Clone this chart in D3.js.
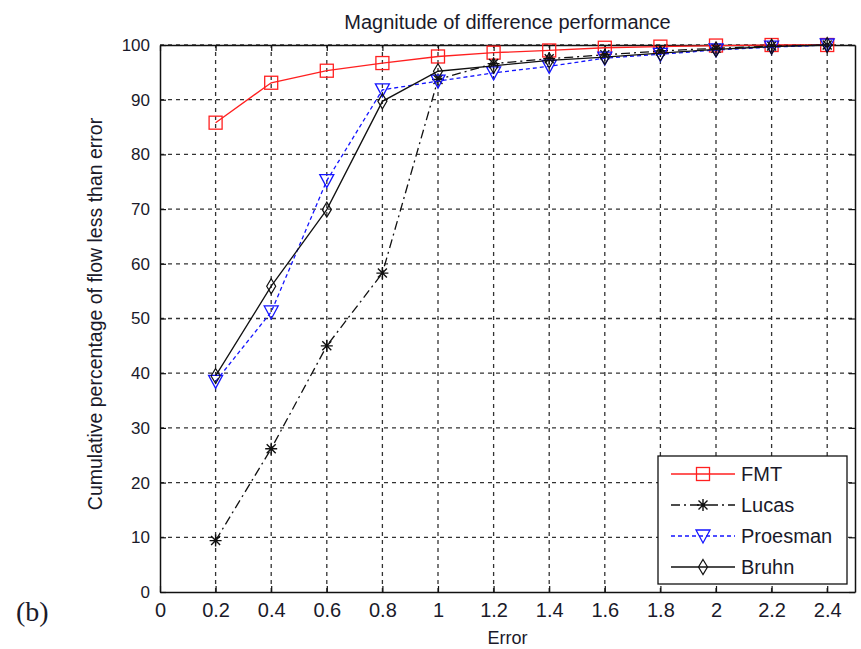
<!DOCTYPE html>
<html>
<head>
<meta charset="utf-8">
<script src="https://cdn.jsdelivr.net/npm/d3@7"></script>
<style>
  body { margin: 0; background: #fff; }
  text { font-family: "Liberation Sans", Arial, sans-serif; fill: #1a1a2a; }
</style>
</head>
<body>
<div id="chart"></div>
<script>
// --- datos ---
const errors = [0.2, 0.4, 0.6, 0.8, 1.0, 1.2, 1.4, 1.6, 1.8, 2.0, 2.2, 2.4];
const fmt      = [85.8, 93.1, 95.3, 96.7, 97.9, 98.6, 99.0, 99.5, 99.7, 99.9, 100, 100];
const lucas    = [9.4, 26.2, 45.0, 58.3, 93.7, 96.6, 97.5, 98.2, 98.9, 99.4, 99.8, 100];
const proesman = [38.5, 51.2, 75.2, 91.8, 93.4, 94.9, 96.1, 97.6, 98.3, 99.1, 99.6, 100];
const bruhn    = [39.5, 55.9, 69.9, 89.7, 95.2, 96.2, 97.2, 97.8, 98.5, 99.2, 99.7, 100];
const xTicks = [0, 0.2, 0.4, 0.6, 0.8, 1, 1.2, 1.4, 1.6, 1.8, 2, 2.2, 2.4];
const yTicks = [0, 10, 20, 30, 40, 50, 60, 70, 80, 90, 100];

const series = [
  { name: "FMT", values: fmt, color: "#ff2020", dash: null, marker: "square" },
  { name: "Lucas", values: lucas, color: "#111", dash: "9,4,2,4", marker: "star" },
  { name: "Proesman", values: proesman, color: "#1515ff", dash: "4,3", marker: "tri" },
  { name: "Bruhn", values: bruhn, color: "#111", dash: null, marker: "diamond" }
];

const width = 861, height = 649;
const margin = { top: 45, right: 6, bottom: 57, left: 160 };

const svg = d3.select("#chart").append("svg")
  .attr("width", width).attr("height", height);

const x = d3.scaleLinear().domain([0, 2.5]).range([margin.left, width - margin.right]);
const y = d3.scaleLinear().domain([0, 100]).range([height - margin.bottom, margin.top]);

const x0 = x.range()[0], x1 = x.range()[1], y0 = y.range()[0], y1 = y.range()[1];

// rejilla punteada
const grid = svg.append("g").attr("stroke", "#333").attr("stroke-width", 1.3)
  .attr("stroke-dasharray", "4,4");
xTicks.slice(1).forEach(t => {
  grid.append("line").attr("x1", x(t)).attr("x2", x(t)).attr("y1", y0).attr("y2", y1);
});
yTicks.slice(1).forEach(t => {
  grid.append("line").attr("x1", x0).attr("x2", x1).attr("y1", y(t)).attr("y2", y(t));
});

// ejes estilo MATLAB (ticks hacia dentro)
svg.append("g").attr("transform", `translate(0,${y0})`)
  .call(d3.axisBottom(x).tickValues(xTicks).tickSizeInner(-6).tickSizeOuter(0).tickPadding(11).tickFormat(d3.format("")))
  .call(g => g.selectAll("text").style("font-size", "20px").attr("fill", "#1a1a2a"));
svg.append("g").attr("transform", `translate(${x0},0)`)
  .call(d3.axisLeft(y).tickValues(yTicks).tickSizeInner(-6).tickSizeOuter(0).tickPadding(10))
  .call(g => g.selectAll("text").style("font-size", "17px").attr("fill", "#1a1a2a"));
svg.append("g").attr("transform", `translate(0,${y1})`)
  .call(d3.axisTop(x).tickValues(xTicks).tickSizeInner(-6).tickSizeOuter(0).tickFormat(""));
svg.append("g").attr("transform", `translate(${x1},0)`)
  .call(d3.axisRight(y).tickValues(yTicks).tickSizeInner(-6).tickSizeOuter(0).tickFormat(""));
svg.selectAll(".domain").attr("stroke", "#111").attr("stroke-width", 1.5);
svg.selectAll(".tick line").attr("stroke", "#111").attr("stroke-width", 1.2);

// marcadores
function drawMarker(g, type, color) {
  if (type === "square") {
    g.append("rect").attr("x", -6.5).attr("y", -6.5).attr("width", 13).attr("height", 13)
      .attr("fill", "none").attr("stroke", color).attr("stroke-width", 1.3);
  } else if (type === "tri") {
    g.append("path").attr("d", "M-7,-6 L7,-6 L0,7 Z")
      .attr("fill", "none").attr("stroke", color).attr("stroke-width", 1.3);
  } else if (type === "diamond") {
    g.append("path").attr("d", "M0,-7.5 L4.5,0 L0,7.5 L-4.5,0 Z")
      .attr("fill", "none").attr("stroke", color).attr("stroke-width", 1.2);
  } else if (type === "star") {
    g.append("path").attr("d", "M-6,0 L6,0 M0,-6 L0,6 M-4.5,-4.5 L4.5,4.5 M-4.5,4.5 L4.5,-4.5")
      .attr("stroke", color).attr("stroke-width", 1.4);
  }
}

const line = d3.line().x(d => x(d[0])).y(d => y(d[1]));

series.forEach(s => {
  const pts = errors.map((e, i) => [e, s.values[i]]);
  svg.append("path").datum(pts)
    .attr("d", line)
    .attr("fill", "none")
    .attr("stroke", s.color)
    .attr("stroke-width", 1.3)
    .attr("stroke-dasharray", s.dash);
  pts.forEach(p => {
    const g = svg.append("g").attr("transform", `translate(${x(p[0])},${y(p[1])})`);
    drawMarker(g, s.marker, s.color);
  });
});

// leyenda
const legend = svg.append("g").attr("transform", "translate(658,456)");
legend.append("rect").attr("width", 189).attr("height", 128)
  .attr("fill", "#fff").attr("stroke", "#111").attr("stroke-width", 1.3);
series.forEach((s, i) => {
  const ly = 18 + i * 31;
  legend.append("line").attr("x1", 13).attr("x2", 77).attr("y1", ly).attr("y2", ly)
    .attr("stroke", s.color).attr("stroke-width", 1.3).attr("stroke-dasharray", s.dash);
  drawMarker(legend.append("g").attr("transform", `translate(45,${ly})`), s.marker, s.color);
  legend.append("text").attr("x", 83).attr("y", ly + 7).text(s.name)
    .style("font-size", "20px");
});

// títulos
svg.append("text").attr("x", (x0 + x1) / 2).attr("y", 29).attr("text-anchor", "middle")
  .style("font-size", "20px").text("Magnitude of difference performance");
svg.append("text").attr("x", (x0 + x1) / 2).attr("y", 644).attr("text-anchor", "middle")
  .style("font-size", "18px").text("Error");
svg.append("text")
  .attr("transform", `translate(102,314) rotate(-90)`)
  .attr("text-anchor", "middle").style("font-size", "19.5px")
  .text("Cumulative percentage of flow less than error");
svg.append("text").attr("x", 16).attr("y", 621)
  .style("font-family", "'Liberation Serif', 'Times New Roman', serif")
  .style("font-size", "28px").attr("fill", "#111").text("(b)");
</script>
</body>
</html>
